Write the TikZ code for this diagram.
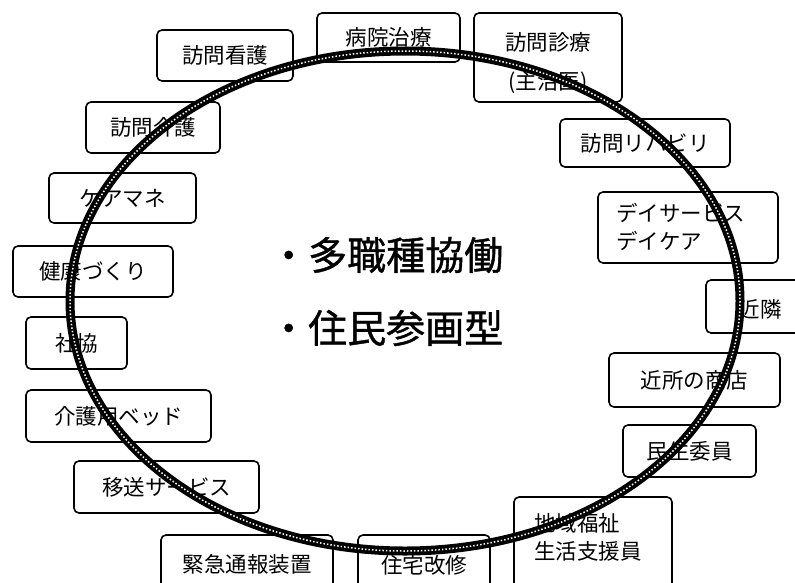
\documentclass[tikz,border=0pt]{standalone}
\usepackage{fontspec}
\setmainfont{Noto Sans CJK JP}
\begin{document}
\begin{tikzpicture}[x=1pt,y=-1pt,
  box/.style={draw=black, line width=1.6pt, rounded corners=5pt, fill=white,
    inner sep=0pt, font=\fontsize{21.5}{27}\selectfont, align=center},
  lbl/.style={inner sep=0pt, font=\fontsize{21.5}{28}\selectfont, align=left},
  big/.style={inner sep=0pt, anchor=west, font=\fontsize{39}{40}\selectfont\addfontfeature{FakeBold=1}},
  ring/.style={draw=black, line width=9pt}
]
\useasboundingbox (0,0) rectangle (795,582);
\fill[white] (0,0) rectangle (795,582);

\node[box, minimum width=136pt, minimum height=51pt] (kango) at (225,55.5) {訪問看護};
\node[box, minimum width=143pt, minimum height=49pt] (byoin) at (388.5,37.5) {病院治療};
\node[box, minimum width=148pt, minimum height=89pt] (shinryo) at (548,57.5) {};
\node[lbl, align=center, font=\fontsize{21.5}{39}\selectfont] (shinryot) at (548,63) {訪問診療\\(主治医)};
\node[box, minimum width=170pt, minimum height=48pt] (reha) at (645,143) {訪問リハビリ};
\node[box, minimum width=180pt, minimum height=71pt] (day) at (688,227.5) {};
\node[lbl, anchor=west] (dayt) at (616,227) {デイサービス\\デイケア};
\node[box, minimum width=110pt, minimum height=53pt] (kinrin) at (761,306.5) {};
\node[lbl] (kinrint) at (760,309) {近隣};
\node[box, minimum width=171pt, minimum height=54pt] (shoten) at (694.5,380) {近所の商店};
\node[box, minimum width=133pt, minimum height=52pt] (minsei) at (689.5,451) {民生委員};
\node[box, minimum width=158pt, minimum height=103pt] (chiiki) at (593,548.5) {};
\node[lbl, anchor=west] (chiikit) at (534,537) {地域福祉\\生活支援員};
\node[box, minimum width=132pt, minimum height=65pt] (jutaku) at (424,567.5) {};
\node[lbl] (jutakut) at (424,565) {住宅改修};
\node[box, minimum width=172pt, minimum height=65pt] (kinkyu) at (247,567.5) {};
\node[lbl] (kinkyut) at (247,564) {緊急通報装置};
\node[box, minimum width=185pt, minimum height=52pt] (iso) at (166.5,487) {移送サービス};
\node[box, minimum width=185pt, minimum height=52pt] (bed) at (118.5,416) {介護用ベッド};
\node[box, minimum width=101pt, minimum height=52pt] (shakyo) at (76.5,343) {社協};
\node[box, minimum width=160pt, minimum height=51pt] (kenko) at (93,271.5) {健康づくり};
\node[box, minimum width=147pt, minimum height=50pt] (caremane) at (122.5,198) {ケアマネ};
\node[box, minimum width=134pt, minimum height=51pt] (kaigo) at (153,127.5) {訪問介護};

\node[big] (t1) at (269,255) {・多職種協働};
\node[big] (t2) at (269,328) {・住民参画型};

\draw[ring] (405,301) ellipse [x radius=335, y radius=250];
\draw[white, line width=1.5pt, dotted] (405,301) ellipse [x radius=335, y radius=250];
\end{tikzpicture}
\end{document}
